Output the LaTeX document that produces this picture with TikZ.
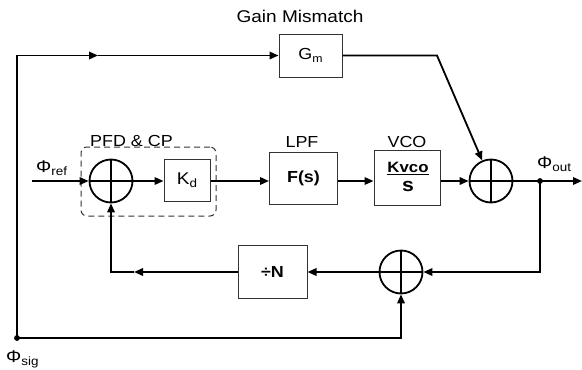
\documentclass[tikz,border=0pt]{standalone}
\usepackage{fontspec}
\setmainfont{Liberation Sans}[FakeStretch=1.12]
\usetikzlibrary{arrows.meta}
\newcommand{\myfs}[1]{\fontsize{#1}{#1}\selectfont}
\newcommand{\mysubs}[2]{\raisebox{-3pt}{\myfs{#1}#2}}
\begin{document}
\begin{tikzpicture}[x=1pt,y=-1pt,
  conn/.style={line width=1.8pt,-{Triangle[length=9pt,width=7.5pt]}},
  blk/.style={rectangle,draw=black!80,line width=1pt,inner sep=0pt},
  lbl/.style={inner sep=0pt},
  dot/.style={circle,fill=black,inner sep=0pt,minimum size=5.5pt},
  sumnode/.style={circle,draw=black,line width=1.8pt,minimum size=43pt,inner sep=0pt,
    path picture={\draw[line width=1.5pt]
      (path picture bounding box.north) -- (path picture bounding box.south)
      (path picture bounding box.west) -- (path picture bounding box.east);}},
  pfdbox/.style={rectangle,draw=black!80,line width=1pt,dash pattern=on 6pt off 4pt,rounded corners=6pt,inner sep=0pt}
]
\useasboundingbox (0,0) rectangle (582,370);

% dashed PFD & CP region
\node[pfdbox,minimum width=135pt,minimum height=69pt] (pfd) at (148.5,181.5) {};

% blocks
\node[sumnode] (s1) at (111,181) {};
\node[sumnode] (s2) at (491,181) {};
\node[sumnode] (s3) at (401,272) {};
\node[blk,minimum width=46pt,minimum height=42pt] (kd) at (187,180) {\myfs{17}K\mysubs{12}{d}};
\node[blk,minimum width=68pt,minimum height=52pt] (lpf) at (303.5,178.5) {\myfs{16}\bfseries F(s)};
\node[blk,minimum width=66pt,minimum height=55pt] (vco) at (407,178) {};
\node[blk,minimum width=63pt,minimum height=43pt] (gm) at (310.5,55.5) {\myfs{16}G\mysubs{11}{m}};
\node[blk,minimum width=69pt,minimum height=53pt] (divn) at (272.5,272) {\myfs{16}\bfseries ÷N};

% VCO fraction
\node[lbl,anchor=base] (kvco) at (408,172.5) {\myfs{15}\bfseries Kvco};
\node[lbl,anchor=base] (vcos) at (408,191.5) {\myfs{19}\bfseries s};
\draw[line width=1.3pt] ([yshift=-2pt]kvco.base west) -- ([yshift=-2pt]kvco.base east);

% titles
\node[lbl] (gain) at (300,16) {\myfs{17}Gain Mismatch};
\node[lbl] (lpft) at (302,142) {\myfs{16}LPF};
\node[lbl] (vcot) at (407,142) {\myfs{16}VCO};
\node[lbl] (pfdt) at (131.5,141) {\myfs{16}PFD \& CP};

% signal labels
\node[lbl,anchor=base west] (phiref) at (36,172) {\myfs{17}Φ\mysubs{12}{ref}};
\node[lbl,anchor=base west] (phiout) at (537,168) {\myfs{17}Φ\mysubs{12}{out}};
\node[lbl,anchor=base west] (phisig) at (6,362) {\myfs{17}Φ\mysubs{12}{sig}};

% dots and helper coordinates
\node[dot] (outdot) at (540,181) {};
\node[dot] (sig) at (17,338) {};
\coordinate (in) at (32,181);
\coordinate (outend) at (582,181);
\coordinate (topmid) at (98,55.5);
\coordinate (botmid) at (134,272);
\coordinate (gmk) at (437,55.5);

% forward path
\draw[conn] (in) -- (s1.west);
\draw[conn] (s1.east) -- (s1.east -| kd.west);
\draw[conn] (kd.east |- s1.east) -- (lpf.west |- s1.east);
\draw[conn] (lpf.east |- s1.east) -- (vco.west |- s1.east);
\draw[conn] (vco.east |- s1.east) -- (s2.west);
\draw[conn] (s2.east) -- (outend);

% gain mismatch path
\draw[conn] (sig.center) |- (topmid);
\draw[conn] (topmid) -- (gm.west);
\draw[conn] (gm.east) -- (gmk) -- (s2);

% feedback
\draw[conn] (outdot.center) |- (s3.east);
\draw[conn] (s3.west) -- (s3.west -| divn.east);
\draw[conn] (divn.west |- s3.west) -- (botmid);
\draw[conn] (botmid) -| (s1.south);
\draw[conn] (sig.center) -| (s3.south);

\node[dot] at (outdot) {};
\node[dot] at (sig) {};
\end{tikzpicture}
\end{document}
